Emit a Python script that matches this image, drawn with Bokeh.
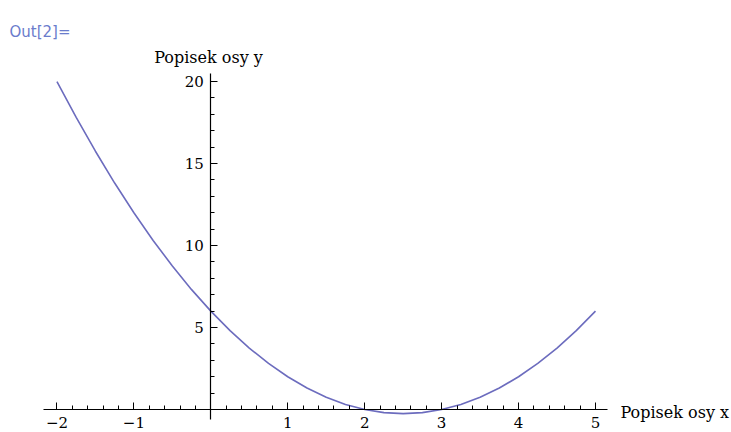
from bokeh.plotting import figure
from bokeh.models import Range1d, LinearAxis, FixedTicker, Label
from bokeh.embed import file_html
from bokeh.resources import INLINE

# Sampled curve values
x_vals = [-2.0, -1.75, -1.5, -1.25, -1.0, -0.75, -0.5, -0.25, 0.0, 0.25, 0.5, 0.75,
          1.0, 1.25, 1.5, 1.75, 2.0, 2.25, 2.5, 2.75, 3.0, 3.25, 3.5, 3.75,
          4.0, 4.25, 4.5, 4.75, 5.0]
y_vals = [20.0, 17.81, 15.75, 13.81, 12.0, 10.31, 8.75, 7.31, 6.0, 4.81, 3.75, 2.81,
          2.0, 1.31, 0.75, 0.31, 0.0, -0.19, -0.25, -0.19, 0.0, 0.31, 0.75, 1.31,
          2.0, 2.81, 3.75, 4.81, 6.0]

x_major = [-2, -1, 1, 2, 3, 4, 5]
x_minor = [round(-2 + 0.2 * i, 1) for i in range(36)]
y_major = [5, 10, 15, 20]
y_minor = list(range(0, 21))
x_tick_labels = {-2: "\u22122", -1: "\u22121"}

serif = "DejaVu Serif"

p = figure(width=731, height=432, output_backend="svg", toolbar_location=None,
           x_range=Range1d(-2.734, 6.768), y_range=Range1d(-1.40, 24.94),
           x_axis_location=None, y_axis_location=None, min_border=0)
p.outline_line_color = None
p.xgrid.visible = False
p.ygrid.visible = False
p.background_fill_color = "white"
p.border_fill_color = "white"

xaxis = LinearAxis(fixed_location=0, bounds=(-2.17, 5.16),
                   ticker=FixedTicker(ticks=x_major, minor_ticks=x_minor))
xaxis.major_label_overrides = x_tick_labels
yaxis = LinearAxis(fixed_location=0, bounds=(-0.6, 20.5),
                   ticker=FixedTicker(ticks=y_major, minor_ticks=y_minor))

for ax in (xaxis, yaxis):
    ax.axis_line_color = "black"
    ax.axis_line_width = 1.2
    ax.major_tick_in = 7
    ax.major_tick_out = 0
    ax.minor_tick_in = 4
    ax.minor_tick_out = 0
    ax.major_tick_line_color = "black"
    ax.minor_tick_line_color = "black"
    ax.major_label_text_font = serif
    ax.major_label_text_font_size = "15px"
    ax.major_label_text_color = "black"
    ax.major_label_standoff = 7

p.add_layout(xaxis, "below")
p.add_layout(yaxis, "left")

p.line(x_vals, y_vals, line_color="#6c6cbe", line_width=1.6)

p.add_layout(Label(x=620, y=20, x_units="screen", y_units="screen",
                   text="Popisek osy x", text_font=serif, text_font_size="16px",
                   text_color="black", text_baseline="alphabetic"))
p.add_layout(Label(x=208, y=375, x_units="screen", y_units="screen",
                   text="Popisek osy y", text_font=serif, text_font_size="16px",
                   text_color="black", text_align="center", text_baseline="alphabetic"))
p.add_layout(Label(x=9, y=401, x_units="screen", y_units="screen",
                   text="Out[2]=", text_font="DejaVu Sans", text_font_size="15px",
                   text_color="#6a7ccc", text_baseline="alphabetic"))

open("out.html", "w").write(file_html(p, INLINE))
